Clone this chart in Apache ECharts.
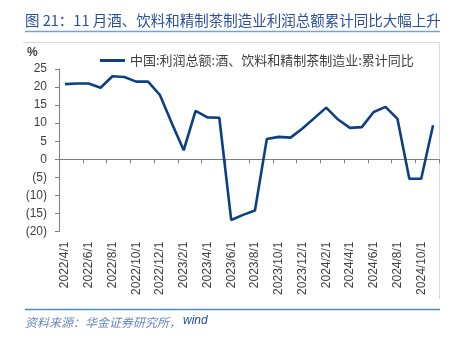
<!DOCTYPE html>
<html>
<head>
<meta charset="utf-8">
<script src="https://cdn.jsdelivr.net/npm/echarts@6/dist/echarts.min.js"></script>
<style>
html,body{margin:0;padding:0;background:#fff;}
#c{width:460px;height:341px;}
</style>
</head>
<body>
<div id="c"></div>
<script>
const titleText = '图 21：11 月酒、饮料和精制茶制造业利润总额累计同比大幅上升';
const sourceText = '资料来源：华金证券研究所，';
const sourceTail = 'wind';
const seriesName = '中国:利润总额:酒、饮料和精制茶制造业:累计同比';
const categories = [
  '2022/4/1','2022/5/1','2022/6/1','2022/7/1','2022/8/1','2022/9/1','2022/10/1','2022/11/1','2022/12/1',
  '2023/1/1','2023/2/1','2023/3/1','2023/4/1','2023/5/1','2023/6/1','2023/7/1','2023/8/1','2023/9/1',
  '2023/10/1','2023/11/1','2023/12/1','2024/1/1','2024/2/1','2024/3/1','2024/4/1','2024/5/1','2024/6/1',
  '2024/7/1','2024/8/1','2024/9/1','2024/10/1','2024/11/1'
];
const values = [
  20.8, 21.0, 21.0, 19.8, 23.0, 22.8, 21.5, 21.5, 17.8,
  10.0, 2.5, 13.4, 11.6, 11.5, -16.8, -15.4, -14.2, 5.6,
  6.2, 6.0, 8.5, 11.4, 14.3, 11.0, 8.7, 8.9, 13.1,
  14.5, 11.2, -5.4, -5.4, 9.4
];
const yMin = -20, yMax = 25, yStep = 5;

const chart = echarts.init(document.getElementById('c'), null, {renderer: 'canvas'});
const labelFont = 'Liberation Sans, Arial, sans-serif';
const cjkFont = 'Noto Sans CJK SC, sans-serif';
chart.setOption({
  animation: false,
  backgroundColor: '#ffffff',
  grid: {left: 59, top: 69, width: 380, height: 162.5, containLabel: false},
  legend: {
    data: [{name: seriesName, icon: 'rect'}],
    left: 95, top: 49,
    itemWidth: 25, itemHeight: 3, itemGap: 4,
    itemStyle: {color: '#0d3f83'},
    textStyle: {fontFamily: cjkFont, fontSize: 13, color: '#404040', padding: [0, 0, 0, 0]}
  },
  xAxis: [{
    type: 'category', data: categories, boundaryGap: true,
    axisLine: {onZero: true, lineStyle: {color: '#7f7f7f', width: 1}},
    axisTick: {show: true, interval: 1, length: 4, inside: false, lineStyle: {color: '#7f7f7f'}},
    axisLabel: {show: false},
    splitLine: {show: false}
  }, {
    type: 'category', data: categories, boundaryGap: true, position: 'bottom',
    axisLine: {show: false, onZero: false},
    axisTick: {show: false},
    axisLabel: {interval: 1, rotate: 90, margin: 10, fontFamily: labelFont, fontSize: 12, color: '#404040'},
    splitLine: {show: false}
  }],
  yAxis: {
    type: 'value', min: yMin, max: yMax, interval: yStep,
    axisLine: {show: true, lineStyle: {color: '#7f7f7f', width: 1}},
    axisTick: {show: true, length: 4, lineStyle: {color: '#7f7f7f'}},
    splitLine: {show: false},
    axisLabel: {
      margin: 12, fontFamily: labelFont, fontSize: 12, color: '#404040',
      formatter: v => v < 0 ? '(' + Math.abs(v) + ')' : String(v)
    }
  },
  series: [{
    name: seriesName, type: 'line', data: values, xAxisIndex: 0,
    symbol: 'none', smooth: false,
    lineStyle: {color: '#0d3f83', width: 2.6},
    itemStyle: {color: '#0d3f83'}
  }],
  graphic: [
    {type: 'text', left: 25, top: 13, style: {text: titleText, font: '14.5px ' + cjkFont, fill: '#2b4f9e'}},
    {type: 'line', shape: {x1: 25, y1: 31.5, x2: 440, y2: 31.5}, style: {stroke: '#6fa3d8', lineWidth: 1.5}},
    {type: 'line', shape: {x1: 23, y1: 42.5, x2: 439.5, y2: 42.5}, style: {stroke: '#d9d9d9', lineWidth: 1}},
    {type: 'line', shape: {x1: 439.5, y1: 42.5, x2: 439.5, y2: 299}, style: {stroke: '#d9d9d9', lineWidth: 1}},
    {type: 'text', left: 27, top: 47, style: {text: '%', font: 'bold 12px ' + labelFont, fill: '#404040'}},
    {type: 'line', shape: {x1: 25, y1: 309.5, x2: 440, y2: 309.5}, style: {stroke: '#4a8ac8', lineWidth: 1.5}},
    {type: 'text', left: 25, top: 316, style: {text: sourceText, font: 'italic 12px ' + cjkFont, fill: '#6a86c0'}},
    {type: 'text', left: 183, top: 315, style: {text: sourceTail, font: 'italic 12px ' + labelFont, fill: '#1f4e9a'}}
  ]
});
</script>
</body>
</html>
